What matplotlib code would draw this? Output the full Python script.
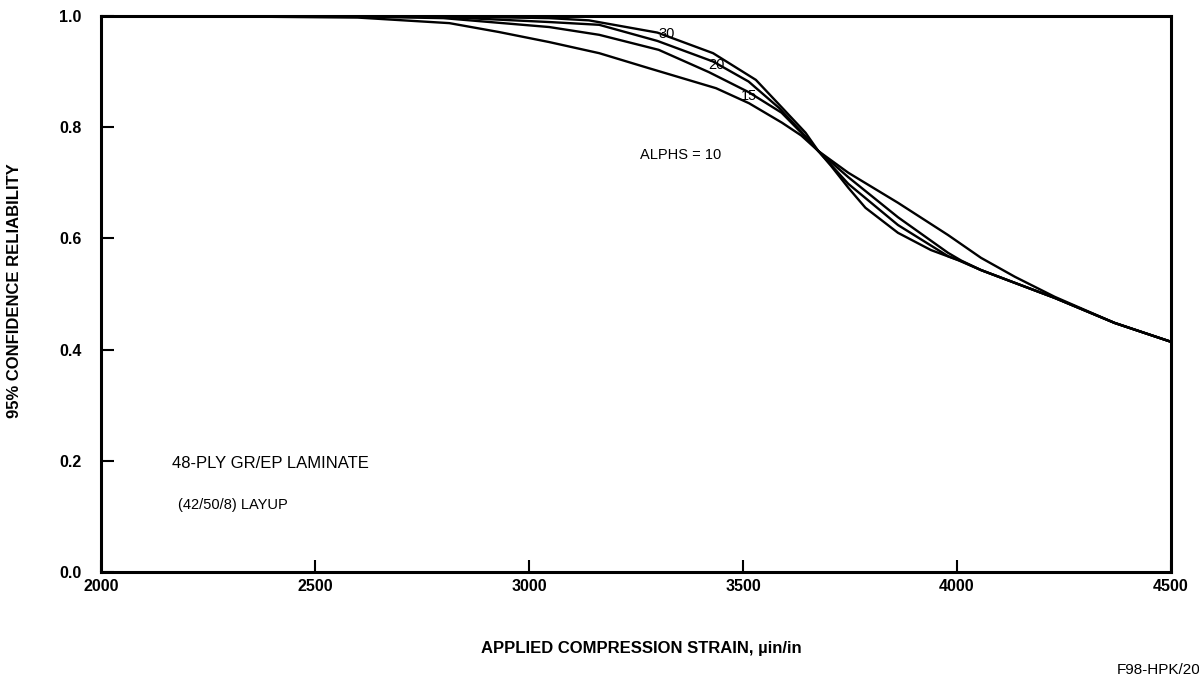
import matplotlib.pyplot as plt
import numpy as np

plt.rcParams['font.family'] = ['Liberation Sans', 'DejaVu Sans']

# strain (uin/in) and 95% confidence reliability
strain_a10 = [2000, 2300, 2600, 2814, 2930, 3047, 3164, 3280, 3437, 3514, 3591, 3636, 3676,
              3746, 3862, 3979, 4056, 4135, 4228, 4368, 4500]
rel_a10 = [1.0, 0.999, 0.997, 0.987, 0.971, 0.953, 0.933, 0.906, 0.870, 0.843, 0.808, 0.785, 0.757,
           0.718, 0.664, 0.606, 0.565, 0.531, 0.495, 0.448, 0.414]

strain_a15 = [2000, 2500, 2800, 3047, 3164, 3303, 3420, 3513, 3590, 3636, 3676,
              3746, 3862, 3979, 4010, 4056, 4135, 4228, 4368, 4500]
rel_a15 = [1.0, 1.0, 0.996, 0.980, 0.966, 0.939, 0.899, 0.863, 0.826, 0.790, 0.757,
           0.710, 0.638, 0.574, 0.560, 0.543, 0.520, 0.493, 0.448, 0.414]

strain_a20 = [2000, 2500, 2800, 3047, 3164, 3300, 3430, 3513, 3585, 3636, 3676,
              3746, 3862, 3979, 4010, 4056, 4135, 4228, 4368, 4500]
rel_a20 = [1.0, 1.0, 0.998, 0.989, 0.984, 0.955, 0.918, 0.882, 0.834, 0.792, 0.757,
           0.698, 0.624, 0.568, 0.559, 0.543, 0.520, 0.493, 0.448, 0.414]

strain_a30 = [2000, 2500, 2800, 3047, 3140, 3300, 3430, 3530, 3590, 3646, 3676,
              3706, 3746, 3786, 3862, 3939, 4002, 4056, 4135, 4228, 4368, 4500]
rel_a30 = [1.0, 1.0, 0.999, 0.996, 0.992, 0.970, 0.933, 0.885, 0.836, 0.790, 0.757,
           0.730, 0.691, 0.655, 0.610, 0.579, 0.561, 0.543, 0.520, 0.493, 0.448, 0.414]

x_ticks = [2000, 2500, 3000, 3500, 4000, 4500]
y_ticks = [0.0, 0.2, 0.4, 0.6, 0.8, 1.0]

fig = plt.figure(figsize=(11.99, 6.77), dpi=100)
ax = fig.add_axes([0.0842, 0.155, 0.8925, 0.8215])

for xs, ys in [(strain_a10, rel_a10), (strain_a15, rel_a15),
               (strain_a20, rel_a20), (strain_a30, rel_a30)]:
    ax.plot(xs, ys, color='black', lw=1.7)

ax.set_xlim(2000, 4500)
ax.set_ylim(0.0, 1.0)
ax.set_xticks(x_ticks)
ax.set_yticks(y_ticks)
ax.set_yticklabels(['%.1f' % v for v in y_ticks])
ax.tick_params(axis='both', direction='in', length=9, width=1.5, labelsize=11.5)
ax.tick_params(axis='x', pad=5)
ax.tick_params(axis='y', pad=14)
for lab in ax.get_xticklabels() + ax.get_yticklabels():
    lab.set_fontweight('bold')
for s in ax.spines.values():
    s.set_linewidth(2.2)

# curve labels
ax.text(3322, 0.968, '30', fontsize=10.5, ha='center', va='center')
ax.text(3438, 0.912, '20', fontsize=10.5, ha='center', va='center')
ax.text(3515, 0.856, '15', fontsize=10.5, ha='center', va='center')
ax.text(3260, 0.75, 'ALPHS = 10', fontsize=10.5, ha='left', va='center')

ax.text(2167, 0.195, '48-PLY GR/EP LAMINATE', fontsize=12, ha='left', va='center')
ax.text(2180, 0.12, '(42/50/8) LAYUP', fontsize=10.5, ha='left', va='center')

fig.text(641 / 1199, 1 - 648 / 677, 'APPLIED COMPRESSION STRAIN, µin/in',
         fontsize=12, fontweight='bold', ha='center', va='center')
fig.text(15 / 1199, 1 - 291 / 677, '95% CONFIDENCE RELIABILITY',
         fontsize=12, fontweight='bold', ha='center', va='center', rotation=90)
fig.text(1117 / 1199, 1 - 670 / 677, 'F98-HPK/20', fontsize=11, ha='left', va='center')

fig.savefig('out.png', dpi=100)
